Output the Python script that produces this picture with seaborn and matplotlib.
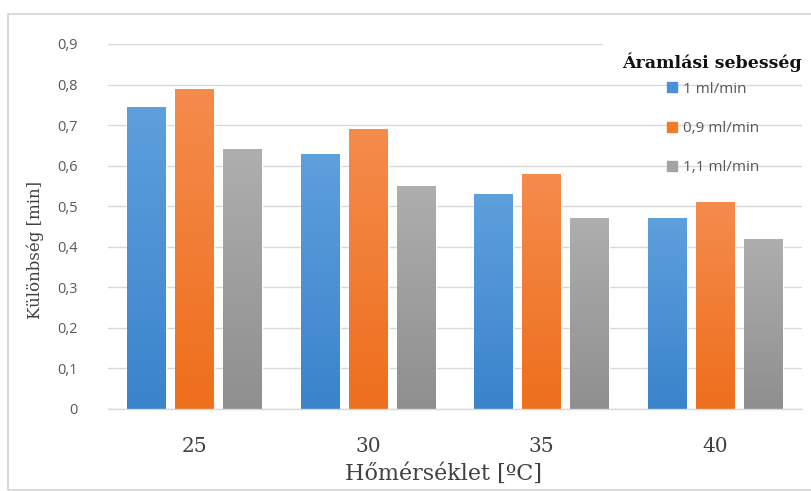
import numpy as np
import pandas as pd
import matplotlib
matplotlib.use("Agg")
import matplotlib.pyplot as plt
import matplotlib.colors as mcolors
from matplotlib.lines import Line2D
from matplotlib.patches import Rectangle
import seaborn as sns

# Temperatures (°C) and flow rates
temperatures = ["25", "30", "35", "40"]
flow_rates = ["1 ml/min", "0,9 ml/min", "1,1 ml/min"]

# Difference [min] per flow rate, one value per temperature
diff_1_0 = [0.745, 0.63, 0.53, 0.47]
diff_0_9 = [0.79, 0.69, 0.58, 0.51]
diff_1_1 = [0.64, 0.55, 0.47, 0.42]

y_ticks = [0, 0.1, 0.2, 0.3, 0.4, 0.5, 0.6, 0.7, 0.8, 0.9]
y_tick_labels = ["0", "0,1", "0,2", "0,3", "0,4", "0,5", "0,6", "0,7", "0,8", "0,9"]

df = pd.DataFrame({
    "temp": temperatures * 3,
    "flow": [flow_rates[0]] * 4 + [flow_rates[1]] * 4 + [flow_rates[2]] * 4,
    "value": diff_1_0 + diff_0_9 + diff_1_1,
})

# base colour plus (top, bottom) shades for a gentle vertical gradient
base_colors = ["#4A90D9", "#F07B28", "#A3A3A3"]
gradients = [("#5E9FDD", "#3A84CC"), ("#F58B4C", "#EE6F1C"), ("#AEAEAE", "#8F8F8F")]

sns.set_theme(style="whitegrid")
plt.rcParams["font.family"] = ["Open Sans", "DejaVu Sans"]

fig = plt.figure(figsize=(8.12, 4.91), dpi=100)
ax = fig.add_axes([108 / 812, 1 - 409 / 491, 694 / 812, (409 - 44) / 491])

sns.barplot(data=df, x="temp", y="value", hue="flow", hue_order=flow_rates,
            palette=base_colors, width=0.83, gap=0.19, legend=False,
            saturation=1, ax=ax, zorder=2)

# Replace flat fills with vertical gradients
n_cat = len(temperatures)
bars = [p for p in ax.patches if isinstance(p, Rectangle) and p.get_height() > 0]
for i, bar in enumerate(bars):
    top_c, bot_c = gradients[i // n_cat]
    c_top = np.array(mcolors.to_rgb(top_c))
    c_bot = np.array(mcolors.to_rgb(bot_c))
    t = np.linspace(0, 1, 64)[:, None]
    img = (c_top * (1 - t) + c_bot * t)[:, None, :]
    x0, w, h = bar.get_x(), bar.get_width(), bar.get_height()
    im = ax.imshow(img, extent=(x0, x0 + w, 0, h), aspect="auto",
                   origin="upper", zorder=2.1, interpolation="bilinear")
    im.set_clip_path(bar)
ax.set_ylim(0, 0.9)
ax.set_xlim(-0.5, 3.5)

# Axes styling
ax.set_yticks(y_ticks)
ax.set_yticklabels(y_tick_labels)
ax.grid(axis="y", color="#D9D9D9", linewidth=1.0)
ax.grid(axis="x", visible=False)
ax.set_axisbelow(True)
for s in ["left", "right", "top"]:
    ax.spines[s].set_visible(False)
ax.spines["bottom"].set_color("#D9D9D9")
ax.spines["bottom"].set_linewidth(1.0)
ax.tick_params(axis="y", length=0, pad=22, labelsize=10.5, labelcolor="#595959")
ax.tick_params(axis="x", length=0, pad=20, labelsize=14.5, labelcolor="#404040")
for lbl in ax.get_xticklabels():
    lbl.set_fontfamily("DejaVu Serif")

ax.set_xlabel("Hőmérséklet [ºC]", family="DejaVu Serif", fontsize=16,
              color="#404040")
ax.xaxis.set_label_coords(0.484, -0.148)
ax.set_ylabel("Különbség [min]", family="DejaVu Serif", fontsize=12,
              color="#404040")
ax.yaxis.set_label_coords(-0.092, 0.436)

# White band behind the legend title hides the top gridline there
ax.add_patch(Rectangle((0.713, 0.96), 0.3, 0.08, transform=ax.transAxes,
                       facecolor="white", edgecolor="none", zorder=0.8,
                       clip_on=False))

# Legend title
ax.text(1.0, 0.951, "Áramlási sebesség", transform=ax.transAxes,
        ha="right", va="center", family="DejaVu Serif", fontweight="bold",
        fontsize=12.5, color="#111111", zorder=5)

# Legend entries
handles = [Line2D([], [], marker="s", linestyle="none", markersize=6.5,
                  markerfacecolor=c, markeredgecolor=c) for c in base_colors]
leg = ax.legend(handles, flow_rates, loc="upper left",
                bbox_to_anchor=(0.801, 0.897), borderaxespad=0, borderpad=0,
                frameon=False, fontsize=11, labelspacing=1.6,
                handletextpad=0.25, handlelength=1.0)
for txt in leg.get_texts():
    txt.set_color("#595959")

# Light outer frame of the chart area
fig.patches.append(Rectangle((8 / 812, 1 / 491), 1.0, (490 - 14) / 491,
                             transform=fig.transFigure, fill=False,
                             edgecolor="#D4D4D4", linewidth=1.2))

fig.savefig("out.png", dpi=100, facecolor="white")
